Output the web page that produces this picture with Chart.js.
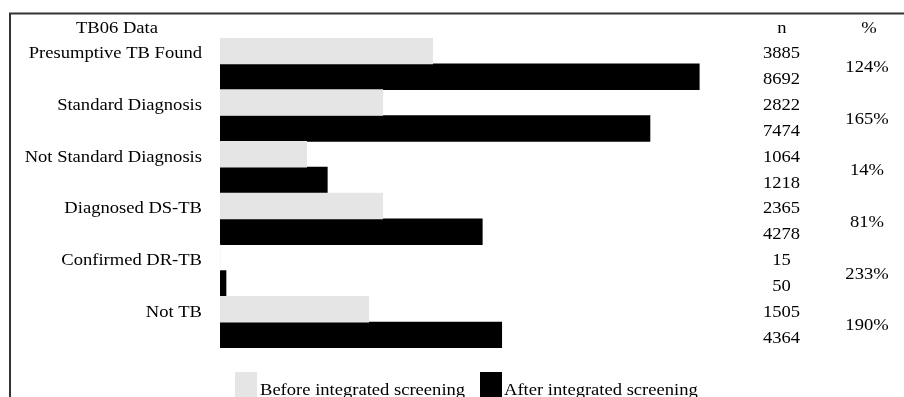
<!DOCTYPE html>
<html>
<head>
<meta charset="utf-8">
<script src="https://cdn.jsdelivr.net/npm/chart.js@4"></script>
<style>
  html, body { margin: 0; padding: 0; background: #fff; }
  #wrap { width: 904px; height: 397px; position: relative; }
</style>
</head>
<body>
<div id="wrap"><canvas id="c" width="904" height="397"></canvas></div>
<script>
// ---- data ----
const tableTitle = "TB06 Data";
const categories = ["Presumptive TB Found", "Standard Diagnosis", "Not Standard Diagnosis", "Diagnosed DS-TB", "Confirmed DR-TB", "Not TB"];
const seriesNames = ["Before integrated screening", "After integrated screening"];
// n values printed in the table column
const nBefore = [3885, 2822, 1064, 2365, 15, 1505];
const nAfter = [8692, 7474, 1218, 4278, 50, 4364];
// % change printed in the table column
const pctChange = ["124%", "165%", "14%", "81%", "233%", "190%"];
// bar lengths (bars are not drawn to n scale), in n-like units
const beforeBar = [3857, 2951, 1572, 2951, 0, 2697];
const afterBar = [8692, 7798, 1946, 4757, 109, 5109];
const headerN = "n";
const headerPct = "%";

const FONT = '16px "Liberation Serif"';
const HSCALE = 1.16;
const TXT = '#000';

function drawText(ctx, text, x, y, align) {
  ctx.save();
  ctx.font = FONT;
  ctx.fillStyle = TXT;
  ctx.textBaseline = 'alphabetic';
  ctx.textAlign = 'left';
  const w = ctx.measureText(text).width * HSCALE;
  let x0 = x;
  if (align === 'center') x0 = x - w / 2;
  else if (align === 'right') x0 = x - w;
  ctx.translate(x0, y);
  ctx.scale(HSCALE, 1);
  ctx.fillText(text, 0, 0);
  ctx.restore();
}

const tablePlugin = {
  id: 'tablePlugin',
  afterDraw(chart) {
    const ctx = chart.ctx;
    // frame
    ctx.save();
    ctx.strokeStyle = '#333';
    ctx.lineWidth = 2;
    ctx.beginPath();
    ctx.moveTo(10, 397);
    ctx.lineTo(10, 13.5);
    ctx.lineTo(904, 13.5);
    ctx.stroke();
    ctx.restore();

    drawText(ctx, tableTitle, 117, 33, 'center');
    drawText(ctx, headerN, 782, 33, 'center');
    drawText(ctx, headerPct, 869, 33, 'center');

    const m0 = chart.getDatasetMeta(0);
    const m1 = chart.getDatasetMeta(1);
    const ys = chart.scales.y;
    categories.forEach((cat, i) => {
      const yb = m0.data[i].y;
      const ya = m1.data[i].y;
      const yc = ys.getPixelForValue(i);
      drawText(ctx, cat, 202, yb + 7.5, 'right');
      drawText(ctx, String(nBefore[i]), 781.5, yb + 7.5, 'center');
      drawText(ctx, String(nAfter[i]), 781.5, ya + 7.5, 'center');
      drawText(ctx, pctChange[i], 867, yc + 8, 'center');
    });

    // legend
    const ds = chart.data.datasets;
    const items = [{ bx: 235, tx: 260 }, { bx: 480, tx: 504 }];
    items.forEach((it, k) => {
      ctx.save();
      ctx.fillStyle = ds[k].backgroundColor;
      ctx.fillRect(it.bx, 372, 22, 25);
      ctx.restore();
      drawText(ctx, ds[k].label, it.tx, 395, 'left');
    });
  }
};

new Chart(document.getElementById('c'), {
  type: 'bar',
  data: {
    labels: categories,
    datasets: [
      { label: seriesNames[0], data: beforeBar, backgroundColor: '#e5e5e5', borderWidth: 0 },
      { label: seriesNames[1], data: afterBar, backgroundColor: '#000000', borderWidth: 0 }
    ]
  },
  options: {
    indexAxis: 'y',
    responsive: false,
    animation: false,
    devicePixelRatio: 1,
    layout: { padding: { left: 220, right: 132.6, top: 38, bottom: 49 } },
    datasets: { bar: { categoryPercentage: 1, barPercentage: 1 } },
    scales: {
      x: { display: false, min: 0, max: 10000 },
      y: { display: false }
    },
    plugins: { legend: { display: false }, tooltip: { enabled: false } }
  },
  plugins: [tablePlugin]
});
</script>
</body>
</html>
